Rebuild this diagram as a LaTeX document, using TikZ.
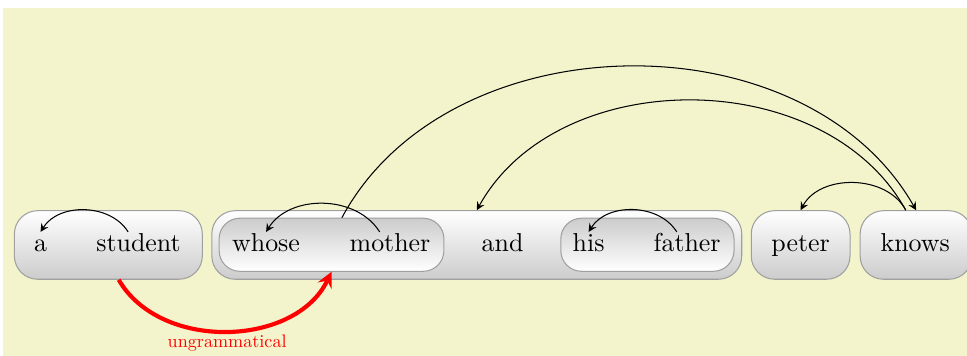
\documentclass[tikz,border=0pt]{standalone}
\usetikzlibrary{arrows}
\definecolor{paper}{RGB}{243,244,204}

\begin{document}
\begin{tikzpicture}[
        chunk/.style={draw=gray!75, rounded corners=9pt, top color=white, bottom color=gray!40, minimum height=0.93cm, inner sep=0pt},
        subchunk/.style={draw=gray!75, rounded corners=8pt, top color=gray!40, bottom color=white, minimum height=0.72cm, inner sep=0pt},
        word/.style={anchor=base, inner sep=0pt, text height=1.75ex},
        dep/.style={-stealth},
        bad/.style={-stealth, red, ultra thick}
    ]

    \useasboundingbox (0,0) rectangle (13.12,4.83);
    \fill[paper] (0.04,0) rectangle (13.12,4.72);

    % chunks
    \node[chunk, minimum width=2.55cm] (AS) at (1.47,1.506) {};
    \node[chunk, minimum width=7.19cm] (WMAHF) at (6.469,1.506) {};
    \node[subchunk, minimum width=3.05cm] (WM) at (4.498,1.509) {};
    \node[subchunk, minimum width=2.35cm] (HF) at (8.784,1.509) {};
    \node[chunk, minimum width=1.34cm] (PETER) at (10.863,1.506) {};
    \node[chunk, minimum width=1.52cm] (KNOWS) at (12.43,1.506) {};

    % words
    \node[word] (a) at (0.55,1.411) {a};
    \node[word] (student) at (1.879,1.411) {student};
    \node[word] (whose) at (3.61,1.411) {whose};
    \node[word] (mother) at (5.292,1.411) {mother};
    \node[word] (and) at (6.819,1.411) {and};
    \node[word] (his) at (7.986,1.411) {his};
    \node[word] (father) at (9.323,1.411) {father};
    \node[word] (peter) at (10.863,1.411) {peter};
    \node[word] (knows) at (12.417,1.411) {knows};

    \draw[dep] ([xshift=-4pt]student.north) to[bend right=58] (a.north);
    \draw[dep] ([xshift=-4pt]mother.north) to[bend right=58] (whose.north);
    \draw[dep] ([xshift=-4pt]father.north) to[bend right=58] (his.north);
    \draw[dep] ([xshift=-4pt]KNOWS.north) to[bend right=62] (PETER.north);
    \draw[dep] ([xshift=-4pt]KNOWS.north) to[bend right=61] (WMAHF.north);
    \draw[dep] ([xshift=4pt]WM.north) to[bend left=61] (KNOWS.north);

    \draw[bad] ([xshift=4pt]AS.south) to[bend right=62]
        node[below, inner sep=1.2pt, scale=0.7, transform shape] (ungr) {ungrammatical} (WM.south);
\end{tikzpicture}
\end{document}
